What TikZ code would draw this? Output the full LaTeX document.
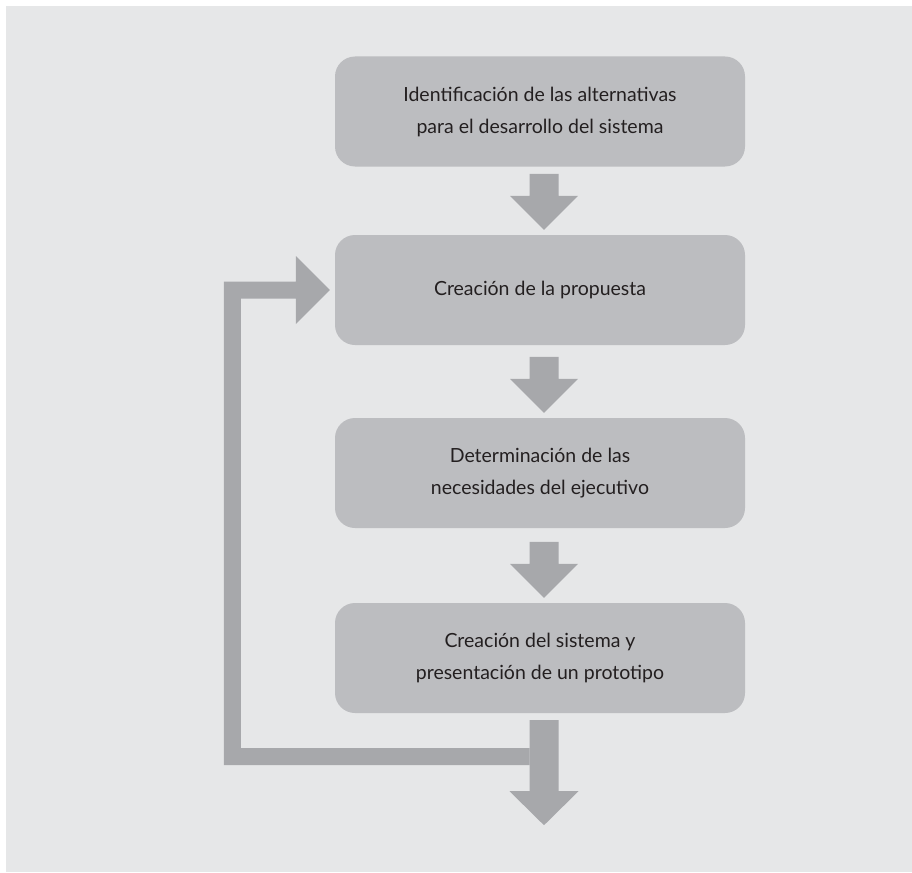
\documentclass[tikz,border=0pt]{standalone}
\usepackage{fontspec}
\setmainfont{Lato}
\usetikzlibrary{calc}
\definecolor{bg}{HTML}{E6E7E8}
\definecolor{boxgray}{HTML}{BCBDC0}
\definecolor{arrowgray}{HTML}{A7A8AB}
\definecolor{txt}{HTML}{231F20}
\newcommand\blockdown[2]{%
  \fill[blockarrow] let \p1=(#1.south), \p2=(#2.north) in
    (\x1+4pt-14.5pt,\y2+61pt) -- (\x1+4pt+14.5pt,\y2+61pt) -- (\x1+4pt+14.5pt,\y2+39pt)
    -- (\x1+4pt+34pt,\y2+39pt) -- (\x1+4pt,\y2+5pt) -- (\x1+4pt-34pt,\y2+39pt)
    -- (\x1+4pt-14.5pt,\y2+39pt) -- cycle;}
\begin{document}
\begin{tikzpicture}[x=1pt,y=-1pt,
  stepbox/.style={fill=boxgray, rounded corners=20pt, minimum width=410pt,
    minimum height=110pt, align=center, text=txt, inner sep=0pt,
    font=\fontsize{19.5}{32}\selectfont},
  blockarrow/.style={fill=arrowgray}]
\useasboundingbox (0,0) rectangle (912,872);
\fill[white] (0,0) rectangle (912,872);
\fill[bg] (6,6) rectangle (912,872);
\node[stepbox] (b1) at (540,111.5) {Identificación de las alternativas\\para el desarrollo del sistema};
\node[stepbox] (b2) at (540,290) {Creación de la propuesta};
\node[stepbox] (b3) at (540,473) {Determinación de las\\necesidades del ejecutivo};
\node[stepbox] (b4) at (540,658) {Creación del sistema y\\presentación de un prototipo};
\blockdown{b1}{b2}
\blockdown{b2}{b3}
\blockdown{b3}{b4}
% feedback loop from b4 back to b2
\fill[blockarrow] let \p1=(b2.west), \p2=(b4.south) in
  (\x1-5pt,\y1) -- (\x1-39pt,\y1+34pt) -- (\x1-39pt,\y1+8.5pt) -- (\x1-111pt,\y1+8.5pt)
  -- (\x1-111pt,\y2-52pt) -- (\x2+4pt-14.5pt,\y2-52pt) -- (\x2+4pt-14.5pt,\y2-35pt)
  -- (\x1-94pt,\y2-35pt) -- (\x1-94pt,\y1-8.5pt) -- (\x1-39pt,\y1-8.5pt)
  -- (\x1-39pt,\y1-34pt) -- cycle;
% outgoing arrow below b4
\coordinate (out) at ($(b4.south)+(4,112)$);
\fill[blockarrow] let \p2=(b4.south), \p3=(out) in
  (\x3-14.5pt,\y2-7pt) -- (\x3+14.5pt,\y2-7pt) -- (\x3+14.5pt,\y3+34pt)
  -- (\x3+34.5pt,\y3+34pt) -- (\x3,\y3) -- (\x3-34.5pt,\y3+34pt)
  -- (\x3-14.5pt,\y3+34pt) -- cycle;
\end{tikzpicture}
\end{document}
